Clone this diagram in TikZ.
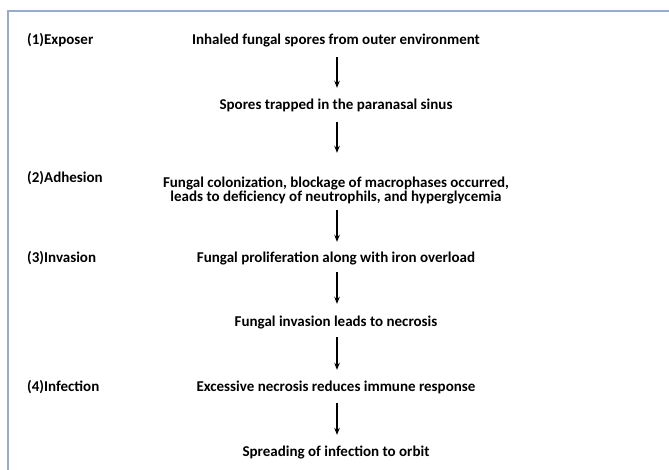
\documentclass[tikz,border=0pt]{standalone}
\usepackage{fontspec}
\setmainfont{Carlito}
\usetikzlibrary{arrows.meta}
\definecolor{framec}{RGB}{150,172,205}
\begin{document}
\begin{tikzpicture}[x=1pt,y=-1pt,
  txt/.style={font=\bfseries\fontsize{15}{14}\selectfont, inner sep=0pt, text height=9pt, text depth=3pt, align=center},
  lbl/.style={txt, anchor=west},
  arr/.style={-{Stealth[length=7pt,width=5.5pt]}, line width=1.1pt}]
\useasboundingbox (0,0) rectangle (669,470);
\fill[white] (0,0) rectangle (669,470);
\draw[framec, line width=1.6pt] (8,480) -- (8,11) -- (680,11);
\node[lbl] (l1) at (27,42) {(1)Exposer};
\node[lbl] (l2) at (27,180) {(2)Adhesion};
\node[lbl] (l3) at (27,259) {(3)Invasion};
\node[lbl] (l4) at (27,388) {(4)Infection};
\node[txt] (t1) at (336,42) {Inhaled fungal spores from outer environment};
\node[txt] (t2) at (336,107) {Spores trapped in the paranasal sinus};
\node[txt] (t3) at (336,199) {Fungal colonization, blockage of macrophases occurred,\\leads to deficiency of neutrophils, and hyperglycemia};
\node[txt] (t4) at (336,259) {Fungal proliferation along with iron overload};
\node[txt] (t5) at (336,323) {Fungal invasion leads to necrosis};
\node[txt] (t6) at (336,388) {Excessive necrosis reduces immune response};
\node[txt] (t7) at (336,453) {Spreading of infection to orbit};
\draw[arr] ([xshift=1pt,yshift=-9pt]t1.south) -- ([xshift=1pt,yshift=13pt]t2.north);
\draw[arr] ([xshift=1pt,yshift=-9pt]t2.south) -- ([xshift=1pt,yshift=40pt]t3.north);
\draw[arr] ([xshift=1pt,yshift=-5pt]t3.south) -- ([xshift=1pt,yshift=11pt]t4.north);
\draw[arr] ([xshift=1pt,yshift=-7pt]t4.south) -- ([xshift=1pt,yshift=13pt]t5.north);
\draw[arr] ([xshift=1pt,yshift=-8pt]t5.south) -- ([xshift=1pt,yshift=12pt]t6.north);
\draw[arr] ([xshift=1pt,yshift=-9pt]t6.south) -- ([xshift=1pt,yshift=12pt]t7.north);
\end{tikzpicture}
\end{document}
